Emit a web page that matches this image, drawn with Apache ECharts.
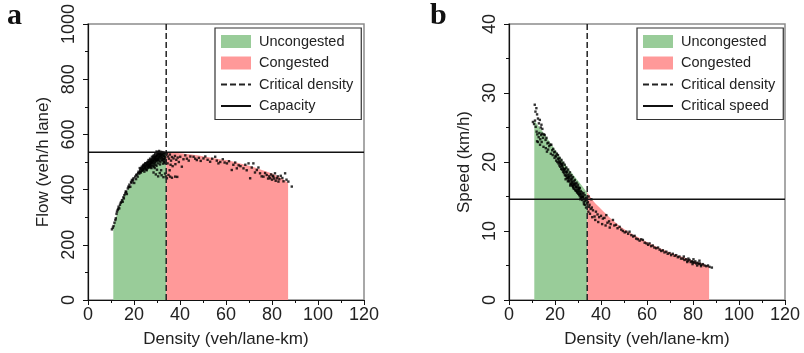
<!DOCTYPE html>
<html>
<head>
<meta charset="utf-8">
<title>Fundamental diagram</title>
<script src="https://cdn.jsdelivr.net/npm/echarts@6/dist/echarts.min.js"></script>
<style>
  html, body { margin: 0; padding: 0; background: #fff; }
  #main { width: 804px; height: 353px; }
</style>
</head>
<body>
<div id="main"></div>
<script>
// ---- data ----
// panel a : flow vs density
const flowUncongK = [11, 13, 15.5, 20, 25, 30, 34];
const flowUncongQ = [265, 322, 376, 432, 488, 521, 535];
const flowCongK = [34, 40, 45, 50, 55, 60, 65, 70, 75, 80, 84, 87];
const flowCongQ = [535, 532, 527, 521, 514, 507, 497, 486, 473, 458, 442, 425];
const capacity = 535;

// panel b : speed vs density
const speedUncongK = [11, 15, 20, 25, 30, 34];
const speedUncongV = [26, 24.2, 21.8, 19.4, 17.3, 15.6];
const speedCongK = [34, 37, 40, 45, 50, 55, 60, 65, 70, 75, 80, 84, 87];
const speedCongV = [15.6, 14.2, 13.2, 11.6, 10.3, 9.3, 8.4, 7.6, 6.9, 6.3, 5.7, 5.3, 4.9];
const criticalSpeed = 14.6;

const criticalDensity = 34;
const densityMax = 120;
const flowMax = 1000;
const speedMax = 40;

// measured points [density, flow]
const flowPoints = [
  [10.4,256],[10.8,262],[11.1,268],[11.5,280],[11.9,290],[12.1,296],[12.4,312],[12.6,320],[12.9,326],[13.3,338],
  [13.6,332],[13.9,345],[14.2,352],[14.8,362],[15.1,356],[15.4,372],[15.8,380],[16.2,386],[16.6,392],[16.9,384],
  [17.3,404],[17.6,411],[18.0,418],[18.4,410],[18.7,428],[19.1,435],[19.4,430],[19.8,441],[20.1,424],[20.5,447],
  [20.9,438],[21.2,455],[21.6,447],[22.0,465],[22.3,458],[22.7,472],[23.0,462],[23.4,483],[23.7,470],[24.1,488],
  [24.4,476],[24.9,495],[25.2,484],[25.5,470],[25.8,500],[26.3,507],[26.6,490],[27.0,512],[27.4,500],[27.8,519],
  [28.2,506],[28.6,524],[29.0,512],[29.2,529],[29.6,520],[30.0,531],[30.3,535],[30.7,534],[31.0,528],
  [22.5,478],[23.1,475],[23.5,468],[24.0,480],[24.2,472],[24.6,485],[24.8,478],[25.0,490],[25.3,476],[25.6,488],
  [25.9,482],[26.1,495],[26.4,486],[26.7,500],[26.9,492],[27.1,480],[27.3,505],[27.5,495],[27.7,488],[27.9,510],
  [28.1,498],[28.3,515],[28.5,503],[28.7,492],[28.9,518],[29.1,508],[29.3,498],[29.5,522],[29.7,512],[29.9,503],
  [30.1,525],[30.2,515],[30.4,507],[30.6,528],[30.8,518],[31.0,510],[31.2,530],[31.4,522],[31.6,513],[31.8,532],
  [32.0,525],[32.2,516],[32.5,530],[32.8,520],[33.0,510],[33.3,528],[33.6,518],[33.8,505],
  [22.8,466],[23.8,474],[24.5,465],[25.4,472],[26.0,478],[26.8,484],[27.6,478],[28.4,486],[29.4,490],[30.5,495],
  [31.5,500],[32.4,505],[33.2,498],[28.5,462],[29.5,455],[30.5,448],[31.2,460],[32.0,452],[32.8,445],[33.5,458],
  [33.9,448],[31.8,470],[30.0,472],[29.0,478],[29.8,538],[30.9,540],[31.5,537],[32.3,536],[33.0,534],[33.7,532],
  [23.3,478],[23.9,486],[24.3,491],[24.7,482],[25.1,496],[25.7,493],[26.2,500],[26.5,481],[26.9,505],[27.2,497],
  [27.6,509],[28.0,502],[28.4,520],[28.8,510],[29.2,516],[29.6,506],[30.0,522],[30.3,512],[30.7,524],[31.1,517],
  [31.5,527],[31.9,520],[32.3,527],[32.7,512],[33.1,522],[33.5,512],[26.0,488],[27.0,492],[28.0,496],[29.0,500],
  [30.0,508],[31.0,504],[32.0,508],[33.0,502],[27.3,485],[28.6,483],[29.8,486],[31.3,491],[32.6,494],[33.7,495],
  [21.0,452],[21.8,460],[22.6,463],[19.6,436],[18.9,424],[17.8,409],[16.4,393],[15.6,368],[14.5,355],[13.1,330],
  [34.3,530],[34.8,520],[35.2,512],[35.6,527],[36.1,505],[36.5,518],[37.2,513],[37.8,522],[38.4,508],[39.0,516],
  [40.1,519],[40.8,483],[41.5,510],[42.3,524],[43.0,512],[43.8,505],[44.5,520],[45.9,519],[46.6,512],[47.3,507],
  [48.2,515],[49.0,504],[50.2,513],[51.0,520],[52.0,508],[53.1,501],[54.0,512],[55.3,519],[56.0,505],[56.7,495],
  [57.5,500],[58.6,510],[59.4,498],[60.4,495],[61.3,503],[62.5,471],[63.2,490],[64.0,498],[64.7,477],[65.5,488],
  [66.3,485],[67.6,477],[68.4,490],[69.0,470],[69.8,495],[70.5,441],[71.2,480],[71.9,495],[72.6,462],[73.4,471],
  [74.1,480],[74.8,459],[75.5,448],[76.3,447],[77.0,460],[77.7,453],[78.3,440],[78.8,448],[79.2,441],[79.6,455],
  [80.0,436],[80.3,450],[80.6,447],[80.9,440],[81.3,459],[81.6,432],[82.1,441],[82.5,448],[82.8,429],[83.2,438],
  [83.8,450],[84.5,442],[85.0,430],[85.7,459],[86.3,436],[87.1,429],[88.6,411],
  [34.3,441],[35.0,453],[35.7,447],[36.5,443],[37.9,447],[38.8,446],[35.5,470],[36.8,485],[38.0,492],[39.5,500],
  [34.6,495],[35.9,490]
];

// measured points [density, speed]
const speedPoints = [
  [11.2,28.3],[11.9,27.8],[11.5,27.3],[12.2,26.9],[10.4,25.8],[10.9,25.5],[11.3,26.0],[12.6,26.3],[13.0,25.6],[13.4,26.1],
  [13.8,25.0],[14.1,25.4],[14.5,24.8],[11.6,25.1],[12.0,24.4],[12.3,24.0],[12.6,22.9],[12.9,23.6],[13.2,24.2],[13.6,23.3],
  [14.0,23.9],[14.4,24.1],[14.8,23.5],[15.2,24.0],[15.5,23.9],[15.9,23.2],[16.3,23.5],[16.7,22.7],[17.1,22.8],[17.5,22.3],
  [18.0,22.5],[18.4,22.5],[18.8,21.7],[19.2,21.9],[19.6,21.4],[20.0,21.5],[20.4,20.8],[20.8,21.2],[21.3,21.0],[21.6,20.4],
  [22.0,20.6],[22.4,20.0],[22.8,20.3],[23.2,19.6],[23.6,19.9],[24.2,19.6],[24.5,19.0],[24.9,19.2],[25.3,18.6],[25.7,18.9],
  [26.1,18.2],[26.5,18.5],[27.1,18.1],[27.4,17.6],[27.8,17.8],[28.2,17.2],[28.6,17.4],[29.0,16.8],[29.4,17.0],[29.8,16.4],
  [30.0,16.7],[30.4,16.1],[30.8,16.2],[31.2,15.8],[31.6,15.6],[32.0,15.3],[32.4,15.5],[32.9,15.2],[33.3,14.8],[33.6,14.5],
  [34.0,14.0],[33.0,13.8],[32.5,14.2],[31.8,14.5],[33.5,13.4],
  [19.0,21.0],[19.8,20.6],[20.5,20.2],[21.0,20.0],[21.5,19.8],[21.9,19.5],[22.3,19.3],[22.7,19.0],[23.1,18.9],[23.5,18.6],
  [23.9,18.4],[24.3,18.1],[24.7,18.0],[25.1,17.7],[25.5,17.6],[25.9,17.3],[26.3,17.2],[26.7,16.9],[27.0,16.8],[27.3,16.6],
  [27.7,16.5],[28.0,16.2],[28.4,16.1],[28.8,15.9],[29.2,15.8],[29.6,15.6],[30.1,15.4],[30.5,15.2],[30.9,15.0],[31.4,14.8],
  [31.9,14.9],[20.2,20.9],[21.8,20.1],[23.0,19.4],[24.0,19.0],[25.0,18.4],[26.0,17.9],[27.2,17.3],[28.3,16.7],[29.3,16.3],
  [30.3,15.8],[31.3,15.3],[32.2,14.9],[22.5,19.7],[23.8,18.9],[25.8,17.8],[27.5,17.1],[29.1,16.4],[30.7,15.6],
  [13.5,22.5],[15.0,22.2],[16.0,22.0],[17.0,21.8],[18.2,21.2],[12.2,23.0],[14.2,22.9],[16.5,21.5],
  [21.2,20.5],[22.1,19.9],[22.9,19.7],[23.4,19.2],[24.1,18.7],[24.8,18.6],[25.4,18.1],[26.2,17.6],[26.9,17.5],[27.6,16.9],
  [28.1,16.8],[28.9,16.5],[29.5,16.0],[30.2,16.0],[30.8,15.4],[31.5,15.0],[32.1,15.0],[32.7,14.6],[33.2,14.3],[33.8,14.8],
  [24.6,17.5],[25.6,17.2],[26.6,16.6],[27.9,16.4],[29.8,15.6],[31.0,14.6],[32.6,13.9],[26.8,17.9],[28.7,16.9],[30.5,16.3],
  [34.3,14.2],[34.8,13.5],[35.0,13.8],[35.5,13.2],[36.0,13.4],[36.5,13.0],[37.2,12.1],[37.8,12.8],[38.5,12.4],[39.2,12.0],
  [40.0,12.2],[40.8,11.8],[41.5,11.9],[42.3,12.3],[42.8,11.2],[43.5,11.4],[44.2,11.0],[45.2,11.6],[45.8,10.8],[46.5,10.9],
  [47.2,10.4],[48.1,10.6],[48.8,10.2],[49.5,10.0],[50.3,9.8],[51.0,9.9],[51.8,9.6],[52.4,9.9],[53.2,9.4],[54.0,9.2],
  [54.6,9.3],[55.3,8.9],[56.0,8.8],[56.8,8.6],[57.5,8.8],[58.2,8.7],[59.0,8.3],[59.8,8.2],[60.5,8.0],[61.1,8.2],
  [61.8,7.8],[62.5,7.9],[63.2,7.6],[64.0,7.5],[64.8,7.6],[65.5,7.3],[66.2,7.1],[66.9,7.2],[67.6,6.9],[68.4,7.0],
  [69.0,6.7],[69.8,6.8],[70.5,6.5],[71.2,6.7],[72.0,6.4],[72.7,6.5],[73.4,6.2],[74.1,6.3],[74.8,6.0],[75.6,6.0],
  [76.3,5.8],[77.0,5.9],[77.7,5.7],[78.5,5.8],[79.0,5.5],[79.5,5.6],[80.0,5.5],[80.6,5.4],[81.0,5.6],[81.4,5.3],
  [82.0,5.4],[82.5,5.2],[83.0,5.3],[83.6,5.1],[84.3,5.2],[85.0,5.0],[85.8,4.9],[86.5,5.0],[87.2,4.8],[88.2,4.7],
  [34.5,12.8],[35.2,12.5],[36.2,12.0],[37.5,11.6],[38.8,11.3],[40.5,11.0],[42.0,10.8],[43.8,10.5],[35.8,14.6],[34.6,15.0],
  [76.0,6.3],[78.0,6.0],[80.2,5.9],[82.8,5.7],[79.8,5.2],[81.8,5.0],[83.5,4.9],[77.5,5.5]
];

const GREEN = '#99cc99';
const RED = '#ff9999';
const FONT = 'Liberation Sans, Arial, sans-serif';

function zip(xs, ys) {
  return xs.map((x, i) => [x, ys[i]]);
}

// one x axis / y axis pair per panel
function xAxisFor(gridIndex) {
  return {
    type: 'value', gridIndex: gridIndex,
    min: 0, max: densityMax, interval: 20,
    name: 'Density (veh/lane-km)', nameLocation: 'middle', nameGap: 31,
    nameTextStyle: { fontSize: 17, color: '#222', fontFamily: FONT },
    axisLine: { onZero: false, lineStyle: { color: '#111', width: 1.2 } },
    axisTick: { length: 5, lineStyle: { color: '#111' } },
    minorTick: { show: true, splitNumber: 2, length: 3, lineStyle: { color: '#111' } },
    splitLine: { show: false },
    axisLabel: { fontSize: 18, color: '#222', margin: 6, fontFamily: FONT }
  };
}
function yAxisFor(gridIndex, max, interval, name) {
  return {
    type: 'value', gridIndex: gridIndex,
    min: 0, max: max, interval: interval,
    name: name, nameLocation: 'middle', nameGap: 36,
    nameTextStyle: { fontSize: 17, color: '#222', fontFamily: FONT },
    axisLine: { show: true, onZero: false, lineStyle: { color: '#111', width: 1.2 } },
    axisTick: { show: true, length: 5, lineStyle: { color: '#111' } },
    minorTick: { show: true, splitNumber: 2, length: 3, lineStyle: { color: '#111' } },
    splitLine: { show: false },
    axisLabel: {
      fontSize: 18, color: '#222', margin: 10, rotate: 90, fontFamily: FONT,
      formatter: (v) => String(v)
    }
  };
}

function legendFor(left, lastName) {
  // line entries: hide the marker, keep only the (dashed) line
  const noMarker = { opacity: 0 };
  return {
    left: left, top: 28, orient: 'vertical',
    itemWidth: 30, itemHeight: 13, itemGap: 6.5,
    padding: [6, 8, 6, 5],
    borderColor: '#333', borderWidth: 1.2,
    selectedMode: false,
    textStyle: { fontSize: 14.5, color: '#222', fontFamily: FONT, padding: [0, 0, 0, 3] },
    data: [
      { name: 'Uncongested', icon: 'rect' },
      { name: 'Congested', icon: 'rect' },
      { name: 'Critical density', itemStyle: noMarker },
      { name: lastName, itemStyle: noMarker }
    ]
  };
}

// filled regions, scatter and reference lines for one panel
function panelSeries(idx, uncong, cong, points, yMax, hName, hValue) {
  return [
    {
      name: 'Uncongested', type: 'line', xAxisIndex: idx, yAxisIndex: idx,
      data: uncong, smooth: 0.3, symbol: 'none', color: GREEN,
      lineStyle: { width: 0 }, areaStyle: { color: GREEN, opacity: 1 }, z: 1, silent: true
    },
    {
      name: 'Congested', type: 'line', xAxisIndex: idx, yAxisIndex: idx,
      data: cong, smooth: 0.3, symbol: 'none', color: RED,
      lineStyle: { width: 0 }, areaStyle: { color: RED, opacity: 1 }, z: 1, silent: true
    },
    {
      name: 'points' + idx, type: 'scatter', xAxisIndex: idx, yAxisIndex: idx,
      data: points, symbol: 'rect', symbolSize: 2.4,
      itemStyle: { color: '#000' }, z: 3, silent: true
    },
    {
      name: 'Critical density', type: 'line', xAxisIndex: idx, yAxisIndex: idx,
      data: [[criticalDensity, 0], [criticalDensity, yMax]], symbol: 'none', color: '#222',
      lineStyle: { color: '#222', width: 1.5, type: [6, 3] }, z: 4, silent: true
    },
    {
      name: hName, type: 'line', xAxisIndex: idx, yAxisIndex: idx,
      data: [[0, hValue], [densityMax, hValue]], symbol: 'none', color: '#111',
      lineStyle: { color: '#111', width: 1.5 }, z: 4, silent: true
    }
  ];
}

const chart = echarts.init(document.getElementById('main'));
const option = {
  animation: false,
  backgroundColor: '#fff',
  title: [
    { text: 'a', left: 2, top: -4, textStyle: { fontFamily: 'Liberation Serif, serif', fontWeight: 'bold', fontSize: 30, color: '#111' } },
    { text: 'b', left: 425, top: -4, textStyle: { fontFamily: 'Liberation Serif, serif', fontWeight: 'bold', fontSize: 30, color: '#111' } }
  ],
  grid: [
    { left: 88, top: 24, width: 276, height: 276, show: true, borderColor: '#8c8c8c', borderWidth: 1.5 },
    { left: 509, top: 24, width: 276, height: 276, show: true, borderColor: '#8c8c8c', borderWidth: 1.5 }
  ],
  legend: [legendFor(215, 'Capacity'), legendFor(637, 'Critical speed')],
  xAxis: [xAxisFor(0), xAxisFor(1)],
  yAxis: [
    yAxisFor(0, flowMax, 200, 'Flow (veh/h lane)'),
    yAxisFor(1, speedMax, 10, 'Speed (km/h)')
  ],
  series: [].concat(
    panelSeries(0, zip(flowUncongK, flowUncongQ), zip(flowCongK, flowCongQ), flowPoints, flowMax, 'Capacity', capacity),
    panelSeries(1, zip(speedUncongK, speedUncongV), zip(speedCongK, speedCongV), speedPoints, speedMax, 'Critical speed', criticalSpeed)
  )
};
chart.setOption(option);
</script>
</body>
</html>
